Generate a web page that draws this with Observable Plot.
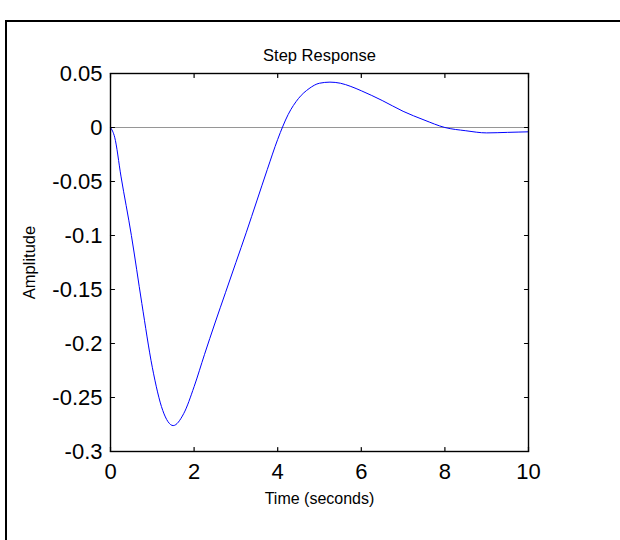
<!DOCTYPE html>
<html><head><meta charset="utf-8">
<script src="https://cdn.jsdelivr.net/npm/d3@7"></script>
<script src="https://cdn.jsdelivr.net/npm/@observablehq/plot@0.6"></script>
<style>
body{margin:0;background:#fff;width:620px;height:540px;overflow:hidden;position:relative;font-family:"Liberation Sans",Arial,sans-serif}
#chart{position:absolute;left:0;top:0}
.bt{position:absolute;background:#000}
</style></head><body>
<div id="chart"></div>
<div class="bt" style="left:5px;top:20px;width:615px;height:2px"></div>
<div class="bt" style="left:5px;top:20px;width:2px;height:520px"></div>
<script>
const time = [0, 0.1, 0.25, 0.5, 0.75, 1, 1.25, 1.5, 1.75, 2, 2.25, 2.5, 2.75, 3, 3.25, 3.5, 3.75, 4, 4.25, 4.5, 4.75, 5, 5.25, 5.5, 5.75, 6, 6.5, 7, 7.5, 8, 8.5, 9, 9.5, 10];
const amplitude = [0, -0.009, -0.045, -0.1, -0.163, -0.222, -0.262, -0.276, -0.265, -0.24, -0.21, -0.181, -0.153, -0.125, -0.097, -0.068, -0.039, -0.011, 0.012, 0.027, 0.036, 0.041, 0.042, 0.041, 0.038, 0.034, 0.025, 0.015, 0.007, 0.0, -0.003, -0.005, -0.0045, -0.004];
const xTicks = [0, 2, 4, 6, 8, 10];
const yTicks = [-0.3, -0.25, -0.2, -0.15, -0.1, -0.05, 0, 0.05];
const xDomain = [0, 10];
const yDomain = [-0.3, 0.05];
const titleText = "Step Response";
const xLabel = "Time (seconds)";
const yLabel = "Amplitude";

const data = time.map((t, i) => ({t, a: amplitude[i]}));
const tickShape = {draw(ctx, l) { ctx.moveTo(0, 0); ctx.lineTo(0, -l); }};
const fmt = d => String(+(+d).toFixed(2));
const tk = {length: 4, anchor: "start", shape: tickShape, stroke: "#000", strokeWidth: 1.2};

const chart = Plot.plot({
  width: 620, height: 540,
  marginLeft: 110, marginRight: 92, marginTop: 73, marginBottom: 89,
  style: {fontFamily: "'Liberation Sans', Arial, sans-serif", background: "transparent", color: "#000"},
  x: {domain: xDomain, ticks: xTicks},
  y: {domain: yDomain, ticks: yTicks},
  marks: [
    Plot.ruleY([0], {stroke: "#8a8a8a", strokeWidth: 0.9}),
    Plot.line(data, {x: "t", y: "a", stroke: "#0000ff", strokeWidth: 1, curve: "monotone-x"}),
    Plot.frame({stroke: "#000", strokeWidth: 1.4}),
    Plot.vector(xTicks, {...tk, x: d => d, y: () => yDomain[0], rotate: 0}),
    Plot.vector(xTicks, {...tk, x: d => d, y: () => yDomain[1], rotate: 180}),
    Plot.vector(yTicks, {...tk, y: d => d, x: () => xDomain[0], rotate: 90}),
    Plot.vector(yTicks, {...tk, y: d => d, x: () => xDomain[1], rotate: -90}),
    Plot.axisX(xTicks, {tickSize: 0, tickPadding: 12, fontSize: 22, tickFormat: fmt, label: null}),
    Plot.axisY(yTicks, {tickSize: 0, tickPadding: 8, fontSize: 22, tickFormat: fmt, label: null}),
    Plot.text([titleText], {text: d => d, frameAnchor: "top", textAnchor: "middle", dy: -18, fontSize: 16.5, lineAnchor: "middle"}),
    Plot.text([xLabel], {text: d => d, frameAnchor: "bottom", textAnchor: "middle", dy: 47, fontSize: 16, lineAnchor: "middle"}),
    Plot.text([yLabel], {text: d => d, frameAnchor: "left", textAnchor: "middle", dx: -81, rotate: -90, fontSize: 16.5, lineAnchor: "middle"})
  ]
});
document.getElementById("chart").appendChild(chart);
</script>
</body></html>
